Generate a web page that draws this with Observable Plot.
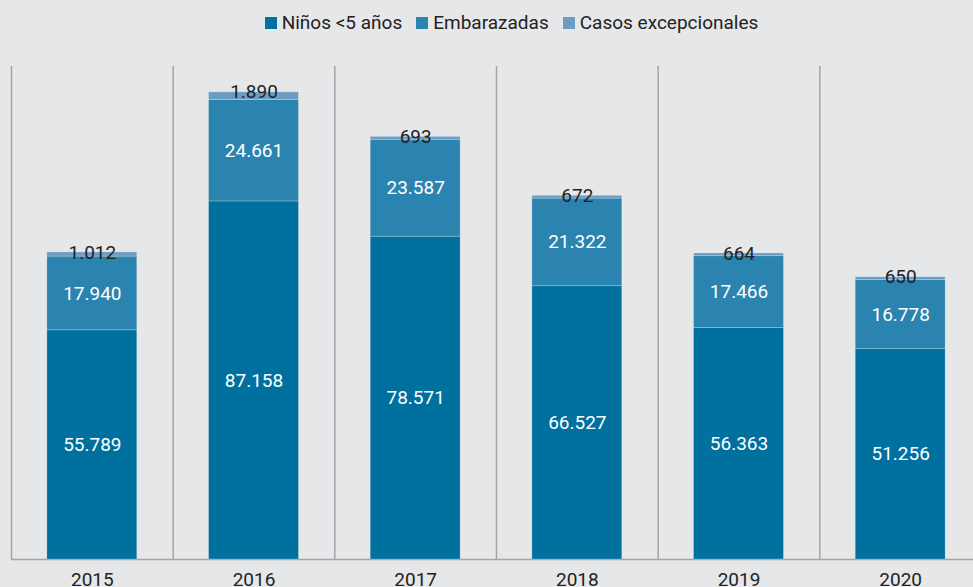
<!DOCTYPE html>
<html>
<head>
<meta charset="utf-8">
<script src="https://cdn.jsdelivr.net/npm/d3@7"></script>
<script src="https://cdn.jsdelivr.net/npm/@observablehq/plot@0.6"></script>
<style>
  html, body { margin: 0; padding: 0; background: #e6e7e9; overflow: hidden; width: 973px; height: 587px; }
  #legend { height: 45px; display: flex; justify-content: center; align-items: center; font-family: Roboto, sans-serif; font-size: 19px; color: #222; padding-left: 50px; box-sizing: border-box; }
  #legend span.item { display: inline-flex; align-items: center; margin: 0 7px; }
  #legend span.sw { width: 12px; height: 12px; display: inline-block; margin-right: 5px; }
  #chart svg { display: block; max-width: none !important; }
</style>
</head>
<body>
<div id="legend"></div>
<div id="chart"></div>
<script>
const years = [2015, 2016, 2017, 2018, 2019, 2020];
const series = ["Niños <5 años", "Embarazadas", "Casos excepcionales"];
const colors = ["#00709f", "#2b83b0", "#6b9dc4"];
const ninos = [55789, 87158, 78571, 66527, 56363, 51256];
const embarazadas = [17940, 24661, 23587, 21322, 17466, 16778];
const casos = [1012, 1890, 693, 672, 664, 650];

const values = [ninos, embarazadas, casos];
const rows = [];
years.forEach((yr, i) => {
  let base = 0;
  values.forEach((arr, s) => {
    const v = arr[i];
    rows.push({year: yr, series: series[s], s, value: v, y1: base, y2: base + v});
    base += v;
  });
});

const loc = d3.formatLocale({decimal: ",", thousands: ".", grouping: [3], currency: ["", ""]});
const fmt = loc.format(",d");

const legend = document.getElementById("legend");
series.forEach((name, i) => {
  const it = document.createElement("span");
  it.className = "item";
  it.innerHTML = `<span class="sw" style="background:${colors[i]}"></span>${name}`;
  legend.appendChild(it);
});

const bounds = [years[0] - 0.5, ...years.map(y => y + 0.5)];
const half = 0.278;

const chart = Plot.plot({
  width: 981,
  height: 560,
  marginLeft: 11,
  marginRight: 0,
  marginTop: 21,
  marginBottom: 46,
  style: {background: "#e6e7e9", fontFamily: "Roboto, sans-serif", fontSize: "19px", color: "#222", overflow: "visible", maxWidth: "none"},
  x: {domain: [years[0] - 0.5, years[years.length - 1] + 0.5], axis: null},
  y: {domain: [0, 120000], axis: null},
  color: {domain: series, range: colors},
  marks: [
    Plot.ruleX(bounds, {x: d => d, y1: 0, y2: 120000, stroke: "#a3a4a6", strokeWidth: 1.5}),
    Plot.ruleY([0], {stroke: "#a3a4a6", strokeWidth: 1.5}),
    Plot.rectY(rows, {x1: d => d.year - half, x2: d => d.year + half, y1: "y1", y2: "y2", fill: "series", stroke: "#e6e7e9", strokeOpacity: 0.35, strokeWidth: 0.8}),
    Plot.text(rows.filter(d => d.s < 2), {x: "year", y: d => (d.y1 + d.y2) / 2, text: d => fmt(d.value), fill: "white", fontSize: 19}),
    Plot.text(rows.filter(d => d.s === 2), {x: "year", y: "y2", text: d => fmt(d.value), fill: "#222", fontSize: 19}),
    Plot.text(years, {x: d => d, y: 0, text: d => String(d), dy: 20, fill: "#222", fontSize: 19})
  ]
});
document.getElementById("chart").appendChild(chart);
</script>
</body>
</html>
